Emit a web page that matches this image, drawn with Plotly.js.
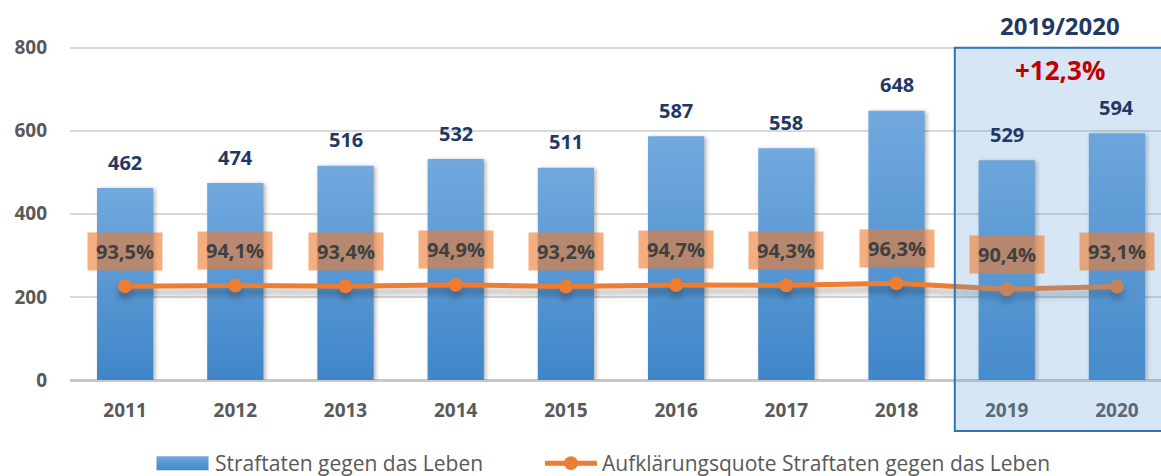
<!DOCTYPE html>
<html>
<head>
<meta charset="utf-8">
<script src="https://cdn.plot.ly/plotly-3.0.1.min.js"></script>
<style>
  html, body { margin: 0; padding: 0; background: #ffffff; }
  #chart { width: 1161px; height: 476px; }
</style>
</head>
<body>
<div id="chart"></div>
<script>
// ---- data ----
const years = ['2011', '2012', '2013', '2014', '2015', '2016', '2017', '2018', '2019', '2020'];
const cases = [462, 474, 516, 532, 511, 587, 558, 648, 529, 594];
const clearanceRate = [93.5, 94.1, 93.4, 94.9, 93.2, 94.7, 94.3, 96.3, 90.4, 93.1];
const barName = 'Straftaten gegen das Leben';
const lineName = 'Aufklärungsquote Straftaten gegen das Leben';
const periodLabel = '2019/2020';
const changeLabel = '+12,3%';
const yTicks = [0, 200, 400, 600, 800];

const FONT = 'Open Sans, Noto Sans, sans-serif';
const fmtPct = v => v.toFixed(1).replace('.', ',') + '%';

const barTrace = {
  type: 'bar', x: years, y: cases, name: barName, yaxis: 'y', legend: 'legend',
  width: 0.51,
  marker: { color: '#5b9bd5' },
  hoverinfo: 'x+y'
};
const lineTrace = {
  type: 'scatter', mode: 'lines+markers', x: years, y: clearanceRate, name: lineName,
  yaxis: 'y2', legend: 'legend2',
  line: { color: '#ed7d31', width: 5 },
  marker: { color: '#ed7d31', size: 14 }
};

const annotations = [];
years.forEach((yr, i) => {
  // category axes: annotations are placed by category index
  annotations.push({
    x: i, y: cases[i], xref: 'x', yref: 'y', yshift: 26,
    text: String(cases[i]), showarrow: false,
    font: { family: FONT, size: 20, color: '#1f3864', weight: 'bold' }
  });
  annotations.push({
    x: i, y: clearanceRate[i], xref: 'x', yref: 'y2', yshift: 35,
    text: fmtPct(clearanceRate[i]), showarrow: false,
    bgcolor: 'rgba(237,125,49,0.62)', borderpad: 5, width: 64, height: 27,
    font: { family: FONT, size: 20, color: '#404040', weight: 'bold' }
  });
});
annotations.push({
  x: 0.907, y: 1.06, xref: 'paper', yref: 'paper', xanchor: 'center', yanchor: 'middle',
  text: periodLabel, showarrow: false,
  font: { family: FONT, size: 24, color: '#1f3864', weight: 'bold' }
});
annotations.push({
  x: 0.907, y: 0.928, xref: 'paper', yref: 'paper', xanchor: 'center', yanchor: 'middle',
  text: changeLabel, showarrow: false,
  font: { family: FONT, size: 26, color: '#c00000', weight: 'bold' }
});

const legendBase = {
  orientation: 'h', xanchor: 'left', y: -0.25, yanchor: 'middle', itemwidth: 52,
  font: { family: FONT, size: 21, color: '#595959' }, bgcolor: 'rgba(0,0,0,0)'
};

const layout = {
  width: 1161, height: 476,
  margin: { l: 70, r: 0, t: 46, b: 96, autoexpand: false },
  paper_bgcolor: '#ffffff', plot_bgcolor: '#ffffff',
  font: { family: FONT, color: '#595959' },
  showlegend: true,
  legend: Object.assign({}, legendBase, { x: 0.0761 }),
  legend2: Object.assign({}, legendBase, { x: 0.4308 }),
  xaxis: {
    type: 'category', range: [-0.5, 9.4], showgrid: false, zeroline: false,
    showline: false, ticks: '', ticklabelstandoff: 17,
    tickfont: { family: FONT, size: 19, color: '#595959', weight: 'bold' }
  },
  yaxis: {
    range: [0, 804], tickvals: yTicks, ticktext: yTicks.map(String),
    showgrid: true, gridcolor: '#d9d9d9', gridwidth: 2,
    zeroline: true, zerolinecolor: '#c8c8c8', zerolinewidth: 3,
    showline: false, ticks: '', ticklabelstandoff: 22,
    tickfont: { family: FONT, size: 19, color: '#595959', weight: 'bold' }
  },
  yaxis2: { overlaying: 'y', range: [1.5, 329], visible: false },
  shapes: [{
    type: 'rect', xref: 'paper', yref: 'paper',
    x0: 0.811, x1: 1.03, y0: -0.1527, y1: 0.995,
    line: { color: '#2e75b6', width: 2 },
    fillcolor: 'rgba(91,155,213,0.25)', layer: 'above'
  }],
  annotations: annotations
};

Plotly.newPlot('chart', [barTrace, lineTrace], layout, { displayModeBar: false, staticPlot: true }).then(gd => {
  const svg = gd.querySelector('svg.main-svg');
  const ns = 'http://www.w3.org/2000/svg';
  let defs = svg.querySelector('defs');
  if (!defs) { defs = document.createElementNS(ns, 'defs'); svg.insertBefore(defs, svg.firstChild); }
  const grad = document.createElementNS(ns, 'linearGradient');
  grad.setAttribute('id', 'barGrad');
  grad.setAttribute('x1', '0'); grad.setAttribute('y1', '0');
  grad.setAttribute('x2', '0'); grad.setAttribute('y2', '1');
  [['0%', '#72a9de'], ['100%', '#3f86c8']].forEach(([o, c]) => {
    const s = document.createElementNS(ns, 'stop');
    s.setAttribute('offset', o); s.setAttribute('stop-color', c);
    grad.appendChild(s);
  });
  defs.appendChild(grad);
  gd.querySelectorAll('.barlayer .trace .point path').forEach(p => {
    p.style.fill = 'url(#barGrad)';
    p.style.filter = 'drop-shadow(2px 1px 2px rgba(0,0,0,0.3))';
  });
  gd.querySelectorAll('.legendpoints path').forEach(p => {
    if (p.classList.contains('legendundefined') || (p.parentNode && p.parentNode.classList.contains('legendbar'))) {
      p.setAttribute('d', 'M-27.5,7H24.5V-7H-27.5Z');
      p.style.fill = 'url(#barGrad)';
    }
  });
  gd.querySelectorAll('.scatterlayer .trace').forEach(t => {
    t.style.filter = 'drop-shadow(0px 6px 3px rgba(0,0,0,0.3))';
  });
});
</script>
</body>
</html>
